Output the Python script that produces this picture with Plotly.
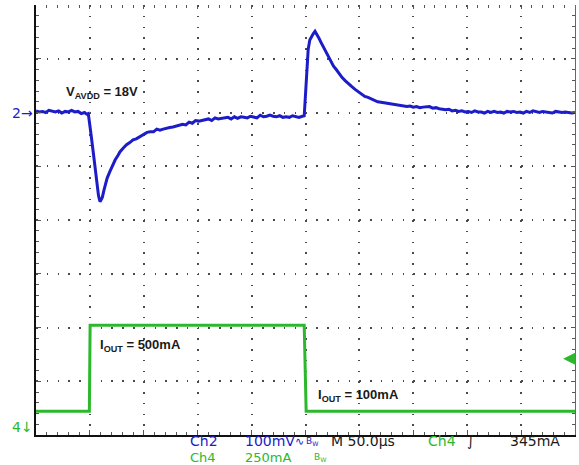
import plotly.graph_objects as go

# ---- captured waveforms -------------------------------------------------
# Ch2: AVDD ripple (mV, AC deviation from the 18 V rail), time in microseconds
ch2_time_us = [
    0, 3, 6, 9, 12, 15, 18, 21, 24, 27, 30, 33, 36, 39, 42, 45, 47, 48.5,
    49.5, 51, 53, 55, 56.5, 58, 59.4, 60.5, 61.5, 63, 64.5, 66, 68.5, 71, 73.5,
    76, 78, 81, 84, 87, 90, 93, 96.5,
    100, 103, 106, 109, 112, 115, 118, 121, 124, 127, 130, 133, 136, 139, 142,
    145, 148, 151, 154, 157, 160, 163, 166, 169, 172, 175, 178, 181, 184, 187,
    190, 193, 196, 199, 202, 205, 208, 211, 214, 217, 220, 223, 226, 229, 232,
    235, 238, 241, 244, 247, 248.8,
    249.6, 250.5, 251.5, 252.5, 254, 255.5, 257, 258.8, 260.5, 262.5, 264.5,
    266.5, 268.5, 271, 273.5, 276, 278.5, 281, 284, 287, 290, 293, 296, 299,
    302, 305, 308, 311, 314, 317, 320, 323, 326, 329, 332, 335, 338, 341, 344,
    347, 350, 353, 356, 359, 362, 365, 368, 371, 374, 377, 380, 383, 386, 389,
    392, 395, 398, 401, 404, 407, 410, 413, 416, 419, 422, 425, 428, 431, 434,
    437, 440, 443, 446, 449, 452, 455, 458, 461, 464, 467, 470, 473, 476, 479,
    482, 485, 488, 491, 494, 497, 500,
]
ch2_mv = [
    3, 1, 2, 0, 4, 2, 1, 3, -1, 2, 1, 4, 1, 2, -2, 0, -3, -2,
    -15, -40, -72, -110, -135, -155, -166, -163, -158, -145, -132, -122, -110,
    -98, -88, -80, -73, -66, -60, -56, -51, -49, -45,
    -41, -37, -36, -36, -31, -33, -31, -29, -28, -27, -25, -24, -22, -23, -18,
    -20, -15, -16, -15, -13, -12, -15, -10, -12, -11, -10, -9, -12, -8, -11,
    -8, -9, -10, -7, -8, -10, -5, -8, -7, -5, -7, -8, -6, -9, -8,
    -9, -6, -8, -9, -7, -6,
    20, 55, 95, 118, 135, 142, 146, 151, 146, 138, 130,
    122, 113, 104, 94, 86, 80, 72, 65, 59, 53, 48, 43, 39,
    35, 30, 28, 25, 23, 20, 19, 18, 16, 15, 15, 14, 13, 12, 11,
    12, 10, 11, 9, 10, 10, 11, 8, 9, 7, 6, 5, 6, 3, 4,
    2, 3, 1, 2, 0, 3, 1, 1, -1, 2, 0, 2, 0, 1, -1,
    2, 1, 2, 0, 1, -1, 2, 0, 3, 1, 0, 2, 1, 1, -1,
    2, 1, 0, 1, 0, -1, 0,
]

# Ch4: load current step (mA)
ch4_time_us = [0, 49.5, 50.2, 248.8, 250.6, 500]
ch4_ma = [100, 100, 500, 500, 100, 100]

# scope settings
CH2_MV_PER_DIV = 100
CH4_MA_PER_DIV = 250
CH2_OFFSET_DIV = 2.0
CH4_OFFSET_DIV = -3.96
TRIGGER_MA = 345

BLUE = "#1c1cc8"
GREEN = "#2cb82c"
TEXT = "#1a1a1a"
GRID = "#4a4a4a"

ch2_div = [CH2_OFFSET_DIV + v / CH2_MV_PER_DIV for v in ch2_mv]
ch4_div = [CH4_OFFSET_DIV + v / CH4_MA_PER_DIV for v in ch4_ma]

fig = go.Figure()
fig.add_trace(go.Scatter(x=ch2_time_us, y=ch2_div, mode="lines",
                         line=dict(color=BLUE, width=3), hoverinfo="skip"))
fig.add_trace(go.Scatter(x=ch4_time_us, y=ch4_div, mode="lines",
                         line=dict(color=GREEN, width=3), hoverinfo="skip"))
# empty trace so the top/right graticule axes get drawn
fig.add_trace(go.Scatter(x=[], y=[], xaxis="x2", yaxis="y2", showlegend=False))

tick_common = dict(showticklabels=False, zeroline=False, ticks="inside",
                   tickcolor="#555", tickwidth=1)

fig.update_layout(
    width=579, height=465,
    margin=dict(l=36, r=4, t=5, b=30),
    paper_bgcolor="white", plot_bgcolor="white",
    showlegend=False,
    xaxis=dict(range=[0, 500], dtick=50, ticklen=5,
               minor=dict(dtick=10, ticks="inside", ticklen=3, tickcolor="#555"),
               showgrid=True, gridcolor=GRID, gridwidth=1.5,
               griddash="1.5px,9.25px",
               showline=True, linecolor="#111", linewidth=2, **tick_common),
    yaxis=dict(range=[-4, 4], dtick=1, ticklen=5,
               minor=dict(dtick=0.2, ticks="inside", ticklen=3, tickcolor="#555"),
               showgrid=True, gridcolor=GRID, gridwidth=1.5,
               griddash="1.5px,9.28px",
               showline=True, linecolor="#111", linewidth=2, **tick_common),
    xaxis2=dict(overlaying="x", side="top", matches="x", anchor="y2",
                range=[0, 500], dtick=50, ticklen=4,
                minor=dict(dtick=10, ticks="inside", ticklen=3, tickcolor="#555"),
                showgrid=False, showline=False, **tick_common),
    yaxis2=dict(overlaying="y", side="right", matches="y", anchor="x2",
                range=[-4, 4], dtick=1, ticklen=4,
                minor=dict(dtick=0.2, ticks="inside", ticklen=3, tickcolor="#555"),
                showgrid=False, showline=True, linecolor="#666", linewidth=1,
                **tick_common),
    font=dict(family="DejaVu Sans", color=TEXT),
)

# waveform labels
label_font = dict(family="Liberation Sans, Arial", size=13, color=TEXT)
fig.add_annotation(x=26, y=2.38, text="<b>V<sub>AVDD</sub> = 18V</b>",
                   showarrow=False, xanchor="left", yanchor="middle", font=label_font)
fig.add_annotation(x=57.5, y=-2.33, text="<b>I<sub>OUT</sub> = 500mA</b>",
                   showarrow=False, xanchor="left", yanchor="middle", font=label_font)
fig.add_annotation(x=260, y=-3.26, text="<b>I<sub>OUT</sub> = 100mA</b>",
                   showarrow=False, xanchor="left", yanchor="middle", font=label_font)

# channel ground markers
fig.add_annotation(xref="paper", x=0, y=CH2_OFFSET_DIV, text="2→", showarrow=False,
                   xanchor="right", yanchor="middle", xshift=-1,
                   font=dict(family="DejaVu Sans", size=14, color=BLUE))
fig.add_annotation(xref="paper", x=0, y=-3.85, text="4↓", showarrow=False,
                   xanchor="right", yanchor="middle", xshift=-1,
                   font=dict(family="DejaVu Sans", size=14, color=GREEN))

# trigger level marker on the right edge
trig_div = CH4_OFFSET_DIV + TRIGGER_MA / CH4_MA_PER_DIV
fig.add_annotation(x=489, y=trig_div, ax=500, ay=trig_div, axref="x", ayref="y",
                   text="", showarrow=True, arrowhead=2, arrowsize=1.0,
                   arrowwidth=2.5, arrowcolor=GREEN)

# readout rows below the graticule
PLOT_W = 539


def readout(px, row, text, color, size=None):
    if size is None:
        size = 14 if row == 1 else 13
    fig.add_annotation(xref="paper", yref="paper", x=(px - 36) / PLOT_W, y=0,
                       xanchor="left", yanchor="middle",
                       yshift=-6 if row == 1 else -22,
                       text=text, showarrow=False, borderpad=0,
                       font=dict(family="DejaVu Sans", size=size, color=color))


readout(189, 1, "Ch2", BLUE)
readout(244, 1, "100mV", BLUE)
readout(294, 1, "∿", BLUE, 11)
readout(305, 1, "B<sub>W</sub>", BLUE, 9)
readout(330, 1, "M 50.0µs", TEXT)
readout(427, 1, "Ch4", GREEN)
readout(466, 1, "∫", TEXT)
readout(509, 1, "345mA", TEXT)
readout(189, 2, "Ch4", GREEN)
readout(244, 2, "250mA", GREEN)
readout(313, 2, "B<sub>W</sub>", GREEN, 9)

fig.write_html("out.html")
